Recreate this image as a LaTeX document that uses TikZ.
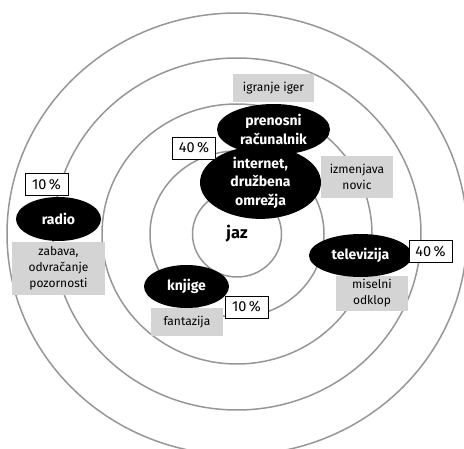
\documentclass[tikz,border=0pt]{standalone}
\usepackage{fontspec}
\setmainfont{Fira Sans}
\usepackage{xcolor}
\definecolor{ringgrey}{RGB}{150,150,150}
\definecolor{notegrey}{RGB}{212,212,212}
\usepackage{tikz}
\usetikzlibrary{shapes.geometric,positioning}

\begin{document}
\begin{tikzpicture}[x=1pt,y=-1pt,
    ring/.style={ringgrey,line width=1.5pt},
    bubble/.style={ellipse,fill=black,text=white,inner sep=0pt,align=center,
      font=\fontsize{14}{18.5}\selectfont\bfseries},
    note/.style={fill=notegrey,inner sep=0pt,align=center,
      font=\fontsize{12}{16}\selectfont},
    share/.style={draw=black,fill=white,line width=0.9pt,inner sep=0pt,
      minimum width=43pt,minimum height=22pt,font=\fontsize{14.5}{16}\selectfont}]
  % Frame
  \clip (0,0) rectangle (464,449);
  % Rings round the centre
  \coordinate (centre) at (237,234);
  \foreach \rx/\ry in {44.5/43, 87/83, 135/130, 184/176, 230/221}
    \draw[ring] (centre) ellipse [x radius=\rx pt, y radius=\ry pt];
  % Notes
  \node[note,minimum width=81pt,minimum height=28pt] (gaming) at (273.5,88) {igranje iger};
  \node[note,minimum width=72pt,minimum height=42pt] (news) at (357,177) {izmenjava\\novic};
  \node[note,minimum width=93pt,minimum height=53pt] (fun) at (58.5,268.5) {zabava,\\odvračanje\\pozornosti};
  \node[note,minimum width=72pt,minimum height=28pt] (fantasy) at (187,322) {fantazija};
  \node[note,minimum width=72pt,minimum height=35pt] (escape) at (372,293.5) {miselni\\odklop};
  % Media
  \node[bubble,minimum width=113pt,minimum height=51pt] (laptop) at (273.5,129.5) {prenosni\\računalnik};
  \node[bubble,minimum width=121pt,minimum height=61pt] (internet) at (260.5,182.5) {internet,\\družbena\\omrežja};
  \node[bubble,minimum width=85pt,minimum height=44pt] (radio) at (58.5,219) {radio};
  \node[bubble,minimum width=85pt,minimum height=43pt] (books) at (186.5,286.5) {knjige};
  \node[bubble,minimum width=103pt,minimum height=43pt] (tv) at (360.5,255.5) {televizija};
  % Centre
  \node[font=\fontsize{16.5}{18}\selectfont\bfseries] (me) at (centre) {jaz};
  % Shares
  \node[share] (pcnet) at (194,148) {40\,\%};
  \node[share] (pcradio) at (46.5,184.5) {10\,\%};
  \node[share] (pcbooks) at (246.5,307) {10\,\%};
  \node[share] (pctv) at (430.5,251.5) {40\,\%};
\end{tikzpicture}
\end{document}
